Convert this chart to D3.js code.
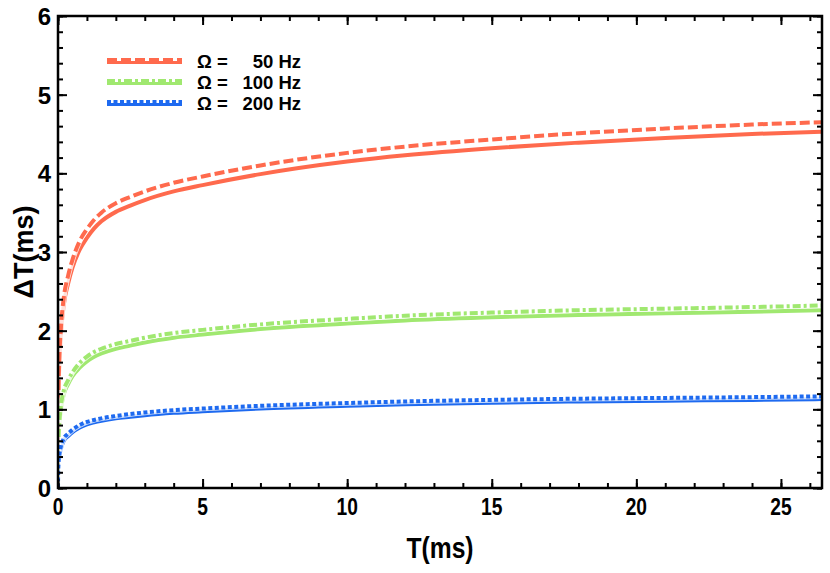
<!DOCTYPE html>
<html>
<head>
<meta charset="utf-8">
<script src="https://cdn.jsdelivr.net/npm/d3@7"></script>
<style>
  body { margin: 0; background: #fff; }
  svg { display: block; font-family: "Liberation Sans", Arial, sans-serif; }
  .tick-label { font-weight: bold; font-size: 24px; }
  .xtick-label { font-weight: bold; font-size: 24px; }
  .legend-text { font-weight: bold; font-size: 18.5px; }
</style>
</head>
<body>
<svg></svg>
<script>
// T values (ms) where the curves were read
var tValues = [0, 0.005, 0.02, 0.05, 0.1, 0.2, 0.35, 0.5, 0.75, 1, 1.25, 1.5, 2, 2.5, 3, 4, 5, 7, 10, 12, 15, 18, 21, 24, 26.4];

// Omega = 50 Hz
var red_solid  = [0, 0.7, 1.2, 1.6, 1.95, 2.33, 2.6, 2.8, 3.03, 3.18, 3.3, 3.39, 3.51, 3.59, 3.66, 3.77, 3.85, 3.99, 4.15, 4.23, 4.32, 4.39, 4.45, 4.50, 4.53];
var red_dashed = [0, 0.75, 1.25, 1.68, 2.03, 2.42, 2.7, 2.9, 3.14, 3.29, 3.41, 3.50, 3.62, 3.70, 3.77, 3.88, 3.96, 4.10, 4.26, 4.34, 4.43, 4.51, 4.57, 4.62, 4.65];
// Omega = 100 Hz
var green_solid  = [0, 0.35, 0.6, 0.82, 1.0, 1.19, 1.32, 1.42, 1.53, 1.61, 1.67, 1.71, 1.77, 1.81, 1.85, 1.91, 1.95, 2.02, 2.09, 2.13, 2.17, 2.20, 2.22, 2.24, 2.26];
var green_dashed = [0, 0.37, 0.63, 0.85, 1.04, 1.24, 1.37, 1.47, 1.59, 1.67, 1.73, 1.77, 1.83, 1.87, 1.91, 1.97, 2.01, 2.08, 2.15, 2.19, 2.23, 2.26, 2.28, 2.30, 2.32];
// Omega = 200 Hz
var blue_solid  = [0, 0.18, 0.3, 0.41, 0.5, 0.6, 0.66, 0.71, 0.77, 0.81, 0.835, 0.855, 0.885, 0.905, 0.925, 0.955, 0.975, 1.01, 1.045, 1.065, 1.085, 1.10, 1.11, 1.12, 1.13];
var blue_dashed = [0, 0.19, 0.32, 0.43, 0.53, 0.63, 0.69, 0.74, 0.80, 0.84, 0.865, 0.885, 0.915, 0.94, 0.96, 0.99, 1.01, 1.045, 1.08, 1.10, 1.12, 1.135, 1.145, 1.155, 1.165];

var legendLabels = ["50 Hz", "100 Hz", "200 Hz"];
var xTicks = [0, 5, 10, 15, 20, 25];
var yTicks = [0, 1, 2, 3, 4, 5, 6];

var svg = d3.select("svg"),
    margin = {top: 16, right: 8, bottom: 85, left: 58},
    width = 830 - margin.left - margin.right,
    height = 573 - margin.top - margin.bottom;

svg.attr("width", width + margin.left + margin.right)
   .attr("height", height + margin.top + margin.bottom);

var g = svg.append("g")
    .attr("transform", "translate(" + margin.left + "," + margin.top + ")");

var x = d3.scaleLinear().domain([0, 26.42]).range([0, width]);
var y = d3.scaleLinear().domain([0, 6]).range([height, 0]);

var series = [
  {vals: red_solid,    color: "#FF6A4D", dash: null},
  {vals: green_solid,  color: "#A0E870", dash: null},
  {vals: blue_solid,   color: "#1E6AF0", dash: null},
  {vals: red_dashed,   color: "#FF6A4D", dash: "10,4"},
  {vals: green_dashed, color: "#A0E870", dash: "8,3,3,3"},
  {vals: blue_dashed,  color: "#1E6AF0", dash: "4,2.5"}
];

var line = d3.line()
    .x(function(d) { return x(d[0]); })
    .y(function(d) { return y(d[1]); })
    .curve(d3.curveMonotoneX);

g.append("defs").append("clipPath").attr("id", "clip")
  .append("rect").attr("width", width).attr("height", height);

var curves = g.append("g").attr("clip-path", "url(#clip)");
series.forEach(function(s) {
  var pts = tValues.map(function(t, i) { return [t, s.vals[i]]; });
  if (s.dash) {
    // thin white halo under the dashed curve
    curves.append("path").datum(pts)
      .attr("d", line).attr("fill", "none")
      .attr("stroke", "#fff").attr("stroke-width", 5.5).attr("stroke-opacity", 0.8);
  }
  curves.append("path").datum(pts)
    .attr("d", line)
    .attr("fill", "none")
    .attr("stroke", s.color)
    .attr("stroke-width", 4)
    .attr("stroke-dasharray", s.dash);
});

// frame ticks (inward on all four sides)
function minorTicks(max, step) {
  var arr = [];
  for (var v = 0; v <= max + 1e-9; v += step) arr.push(+v.toFixed(3));
  return arr;
}
var xMinor = minorTicks(26, 1);
var yMinor = minorTicks(6, 0.2);

g.append("g").call(d3.axisBottom(x).tickValues(xMinor).tickSize(-5).tickFormat(""))
  .attr("transform", "translate(0," + height + ")");
g.append("g").call(d3.axisBottom(x).tickValues(xTicks).tickSize(-9).tickFormat(""))
  .attr("transform", "translate(0," + height + ")");
g.append("g").call(d3.axisTop(x).tickValues(xMinor).tickSize(-5).tickFormat(""));
g.append("g").call(d3.axisTop(x).tickValues(xTicks).tickSize(-9).tickFormat(""));
g.append("g").call(d3.axisLeft(y).tickValues(yMinor).tickSize(-5).tickFormat(""));
g.append("g").call(d3.axisLeft(y).tickValues(yTicks).tickSize(-9).tickFormat(""));
g.append("g").call(d3.axisRight(y).tickValues(yMinor).tickSize(-5).tickFormat(""))
  .attr("transform", "translate(" + width + ",0)");
g.append("g").call(d3.axisRight(y).tickValues(yTicks).tickSize(-9).tickFormat(""))
  .attr("transform", "translate(" + width + ",0)");
g.selectAll(".domain").remove();
g.selectAll(".tick line").attr("stroke", "#000").attr("stroke-width", 2);

g.append("rect")
  .attr("width", width).attr("height", height)
  .attr("fill", "none").attr("stroke", "#000").attr("stroke-width", 2.5);

// tick labels (x labels are set condensed, as in the original)
g.selectAll(".xl").data(xTicks).enter().append("text")
  .attr("class", "xtick-label")
  .attr("transform", function(d) { return "translate(" + x(d) + "," + (height + 27) + ") scale(0.8,1)"; })
  .attr("text-anchor", "middle")
  .text(function(d) { return d; });

g.selectAll(".yl").data(yTicks).enter().append("text")
  .attr("class", "tick-label")
  .attr("x", -7)
  .attr("y", function(d) { return y(d) + 9; })
  .attr("text-anchor", "end")
  .text(function(d) { return d; });

// axis titles
svg.append("text")
  .attr("transform", "translate(440,558) scale(0.85,1)")
  .attr("text-anchor", "middle")
  .style("font-weight", "bold").style("font-size", "29px")
  .text("T(ms)");

svg.append("text")
  .attr("transform", "translate(33,252) rotate(-90)")
  .attr("text-anchor", "middle")
  .style("font-weight", "bold").style("font-size", "27px")
  .text("\u0394T(ms)");

// legend
var legendColors = ["#FF6A4D", "#A0E870", "#1E6AF0"];
var legendDash = ["10,4", "8,3,3,3", "4,2.5"];
var lg = svg.append("g");
legendLabels.forEach(function(lab, i) {
  var ly = 61 + i * 21;
  lg.append("line").attr("x1", 107).attr("x2", 182).attr("y1", ly - 1).attr("y2", ly - 1)
    .attr("stroke", "#fff").attr("stroke-width", 4.5);
  lg.append("line").attr("x1", 107).attr("x2", 182).attr("y1", ly - 1).attr("y2", ly - 1)
    .attr("stroke", legendColors[i]).attr("stroke-width", 4)
    .attr("stroke-dasharray", legendDash[i]);
  lg.append("line").attr("x1", 107).attr("x2", 182).attr("y1", ly + 1.5).attr("y2", ly + 1.5)
    .attr("stroke", legendColors[i]).attr("stroke-width", 3);
  lg.append("text").attr("class", "legend-text")
    .attr("x", 197).attr("y", ly + 6.5).text("\u03A9 =");
  lg.append("text").attr("class", "legend-text")
    .attr("x", 301).attr("y", ly + 6.5).attr("text-anchor", "end").text(lab);
});
</script>
</body>
</html>
